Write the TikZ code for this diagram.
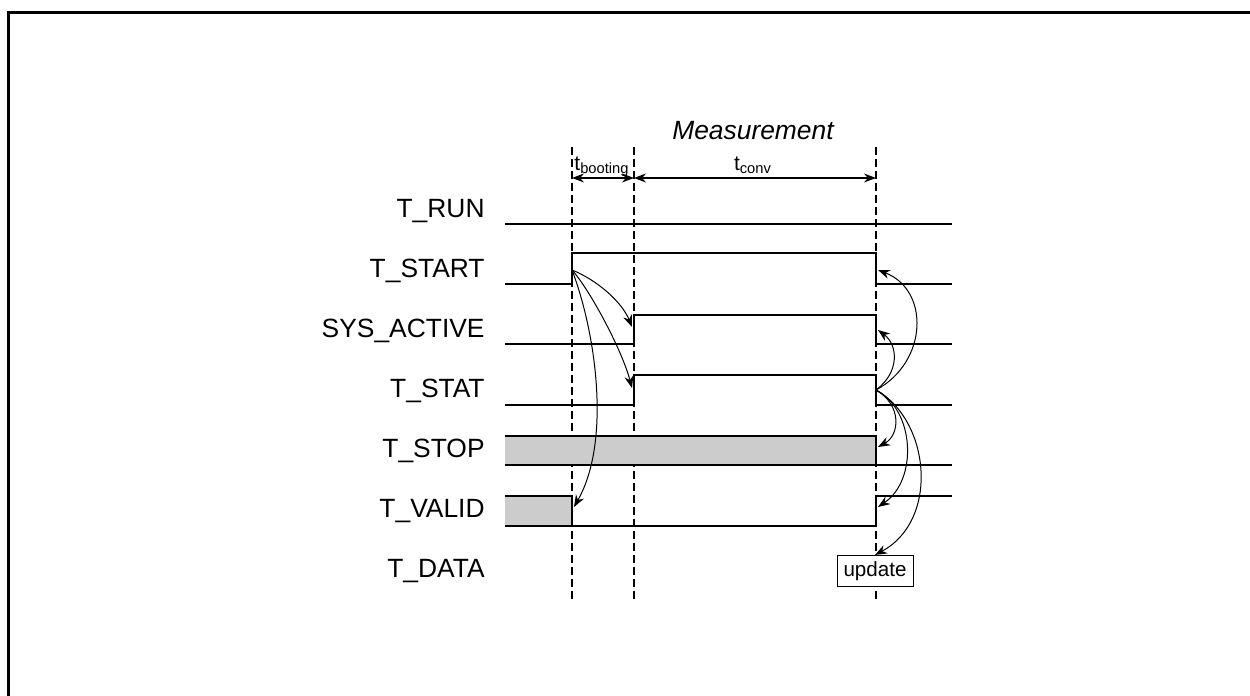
\documentclass[tikz,border=0pt]{standalone}
\usepackage{fontspec}
\setmainfont{Liberation Sans}
\usetikzlibrary{arrows.meta}
\begin{document}
\begin{tikzpicture}[x=0.5pt,y=-0.5pt,
  sig/.style={line width=1.15pt},
  guide/.style={line width=0.7pt,dash pattern=on 4pt off 2pt},
  cause/.style={line width=0.5pt,-{Stealth[length=6pt,width=4.5pt]}},
  dimline/.style={line width=0.6pt,{Stealth[length=6pt,width=4.5pt]}-{Stealth[length=6pt,width=4.5pt]}},
  lbl/.style={anchor=base east,inner sep=0pt,font=\fontsize{13.2}{15}\selectfont},
  tlbl/.style={anchor=base,inner sep=0pt,font=\fontsize{10.5}{12}\selectfont},
  shadefill/.style={fill=black!20}]
\useasboundingbox (0,0) rectangle (1250,696);
\draw[line width=1.5pt] (8,696) -- (8,12) -- (1250,12);

% labels
\node[lbl] (lrun)   at (485,217) {T\_RUN};
\node[lbl] (lstart) at (485,277) {T\_START};
\node[lbl] (lsys)   at (485,337) {SYS\_ACTIVE};
\node[lbl] (lstat)  at (485,397) {T\_STAT};
\node[lbl] (lstop)  at (485,457) {T\_STOP};
\node[lbl] (lvalid) at (485,517) {T\_VALID};
\node[lbl] (ldata)  at (485,577) {T\_DATA};

% guide lines
\coordinate (g1t) at (572,147); \coordinate (g1b) at (572,601);
\coordinate (g2t) at (634,147); \coordinate (g2b) at (634,601);
\coordinate (g3t) at (876,147); \coordinate (g3b) at (876,601);
\draw[guide] (g1t) -- (g1b);
\draw[guide] (g2t) -- (g2b);
\draw[guide] (g3t) -- (g3b);

% titles and dimensions
\node[anchor=base,inner sep=0pt,font=\fontsize{13.2}{15}\selectfont\itshape] (meas) at (753,140) {Measurement};
\coordinate (d1) at (572,178); \coordinate (d2) at (634,178); \coordinate (d3) at (876,178);
\draw[dimline] (d1) -- (d2);
\draw[dimline] (d2) -- (d3);
\node[tlbl] (tboot) at (602,170) {t\textsubscript{booting}};
\node[tlbl] (tconv) at (753,170) {t\textsubscript{conv}};

% signals
\draw[sig] (505,224) -- (952,224);
\draw[sig] (505,284) -- (572,284) -- (572,253) -- (876,253) -- (876,284) -- (952,284);
\draw[sig] (505,344) -- (634,344) -- (634,315) -- (876,315) -- (876,344) -- (952,344);
\draw[sig] (505,405) -- (634,405) -- (634,375) -- (876,375) -- (876,405) -- (952,405);
\fill[shadefill] (505,436) rectangle (876,465);
\draw[sig] (505,436) -- (876,436) -- (876,465);
\draw[sig] (505,465) -- (952,465);
\fill[shadefill] (505,496) rectangle (572,526);
\draw[sig] (505,496) -- (572,496) -- (572,526) -- (876,526) -- (876,496) -- (952,496);
\draw[sig] (505,526) -- (572,526);

% update box
\node[draw,fill=white,line width=0.5pt,inner sep=0pt,minimum width=38pt,minimum height=15.5pt,
      font=\fontsize{10.3}{12}\selectfont] (upd) at (875,571) {update};

% cause arrows
\coordinate (srise) at (572,270);
\coordinate (sysrise) at (632,327);
\coordinate (statrise) at (632,388);
\coordinate (validfall) at (574,507);
\coordinate (statfall) at (876,390);
\coordinate (startfall) at (878,270);
\coordinate (sysfall) at (878,330);
\coordinate (stopfall) at (878,447);
\coordinate (validrise) at (878,507);
\draw[cause] (srise) .. controls (597,280) and (622,302) .. (sysrise);
\draw[cause] (srise) .. controls (590,290) and (622,350) .. (statrise);
\draw[cause] (srise) .. controls (595,330) and (612,440) .. (validfall);
\draw[cause] (statfall) .. controls (928,362) and (930,290) .. (startfall);
\draw[cause] (statfall) .. controls (900,372) and (898,345) .. (sysfall);
\draw[cause] (statfall) .. controls (902,405) and (900,435) .. (stopfall);
\draw[cause] (statfall) .. controls (915,410) and (918,480) .. (validrise);
\draw[cause] (statfall) .. controls (930,420) and (940,520) .. (upd.north);
\end{tikzpicture}
\end{document}
